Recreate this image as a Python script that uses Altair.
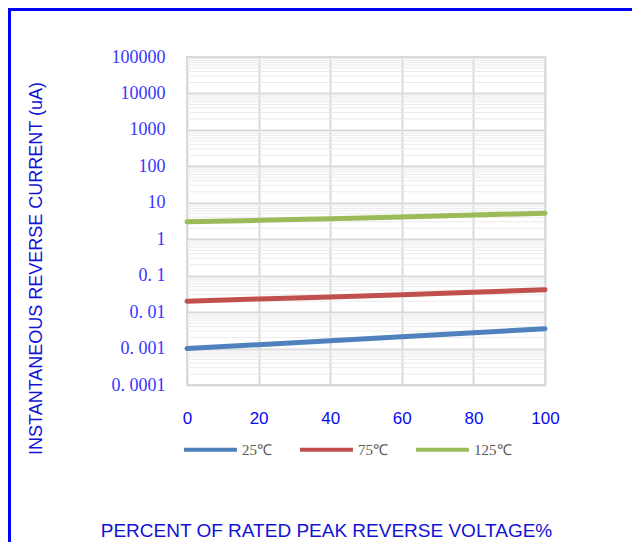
import altair as alt
import pandas as pd

# ---- data ----
x_pct = [0, 20, 40, 60, 80, 100]
cur_25 = [0.001, 0.00128, 0.00165, 0.0021, 0.0027, 0.0035]
cur_75 = [0.02, 0.023, 0.026, 0.030, 0.035, 0.041]
cur_125 = [3.0, 3.3, 3.65, 4.05, 4.6, 5.2]
series = ["25℃", "75℃", "125℃"]
colors = ["#4f81bd", "#c0504d", "#9bbb59"]
y_ticks = [0.0001, 0.001, 0.01, 0.1, 1, 10, 100, 1000, 10000, 100000]
x_ticks = [0, 20, 40, 60, 80, 100]
minor_mult = [2, 3, 4, 5, 6, 7, 8, 9]

rows = []
for name, vals in zip(series, [cur_25, cur_75, cur_125]):
    for x, v in zip(x_pct, vals):
        rows.append({"x": x, "v": v, "s": name})
df = pd.DataFrame(rows)

minor = pd.DataFrame({"m": [d * m for d in y_ticks[:-1] for m in minor_mult]})

W, H = 358, 328
PL, PT, PR, PB = 179, 49, 87, 157

yscale = alt.Scale(type="log", domain=[0.0001, 100000], nice=False)
xscale = alt.Scale(domain=[0, 100], nice=False)

yaxis = alt.Axis(values=y_ticks, title="INSTANTANEOUS REVERSE CURRENT (uA)",
                 titleX=-151, titleY=211, titleAngle=270,
                 titleAnchor="middle", titleBaseline="middle",
                 titleAlign="center",
                 titleFont="Liberation Sans", titleFontSize=18,
                 titleFontWeight="normal", titleColor="#1212d6",
                 labelExpr="datum.value < 1 ? replace(toString(datum.value), '.', '. ') : toString(datum.value)",
                 labelFont="Liberation Serif", labelFontSize=18,
                 labelColor="#3636ff", labelPadding=22, tickSize=0,
                 domain=False, grid=True, gridColor="#d9d9d9",
                 gridWidth=2)

minor_rules = alt.Chart(minor).mark_rule(color="#ebebeb", strokeWidth=1).encode(
    y=alt.Y("m:Q", scale=yscale, axis=yaxis),
    x=alt.value(0),
    x2=alt.value(W),
)

lines = alt.Chart(df).mark_line(strokeWidth=5, strokeCap="round").encode(
    x=alt.X("x:Q", scale=xscale,
            axis=alt.Axis(values=x_ticks, title="PERCENT OF RATED PEAK REVERSE VOLTAGE%",
                          titleX=139, titleY=145, titleAnchor="middle",
                          titleBaseline="middle", titleAlign="center",
                          titleFont="Liberation Sans", titleFontSize=19,
                          titleFontWeight="normal", titleColor="#1212d6",
                          labelFont="Liberation Sans", labelFontSize=17,
                          labelColor="#0a0af0", labelPadding=33, tickSize=0,
                          labelFlush=False,
                          domain=False, grid=True, gridColor="#d9d9d9",
                          gridWidth=2, labelBaseline="middle")),
    y=alt.Y("v:Q", scale=yscale, axis=yaxis),
    color=alt.Color("s:N", scale=alt.Scale(domain=series, range=colors),
                    sort=series,
                    legend=alt.Legend(title=None, orient="none", direction="horizontal",
                                      legendX=-5, legendY=364, symbolType="stroke",
                                      symbolSize=2800, symbolStrokeWidth=4,
                                      labelFont="Liberation Serif", labelFontSize=15,
                                      labelColor="#595959", labelOffset=3,
                                      columnPadding=20, padding=0)),
    order="x:Q",
)

one = alt.Data(values=[{"a": 1}])
border_top = alt.Chart(one).mark_rule(color="#0000ff", strokeWidth=3).encode(
    x=alt.value(-PL), x2=alt.value(W + PR), y=alt.value(-PT + 1.5)
)
border_left = alt.Chart(one).mark_rule(color="#0000ff", strokeWidth=3).encode(
    x=alt.value(-PL + 1.5), y=alt.value(-PT), y2=alt.value(H + PB)
)

chart = alt.layer(minor_rules, lines, border_top, border_left).properties(
    width=W, height=H,
    autosize=alt.AutoSizeParams(type="none"),
    padding={"left": PL, "top": PT, "right": PR, "bottom": PB},
).configure_view(stroke="#d9d9d9", strokeWidth=2)

chart.save("out.html", embed_options={"renderer": "svg", "actions": False})
